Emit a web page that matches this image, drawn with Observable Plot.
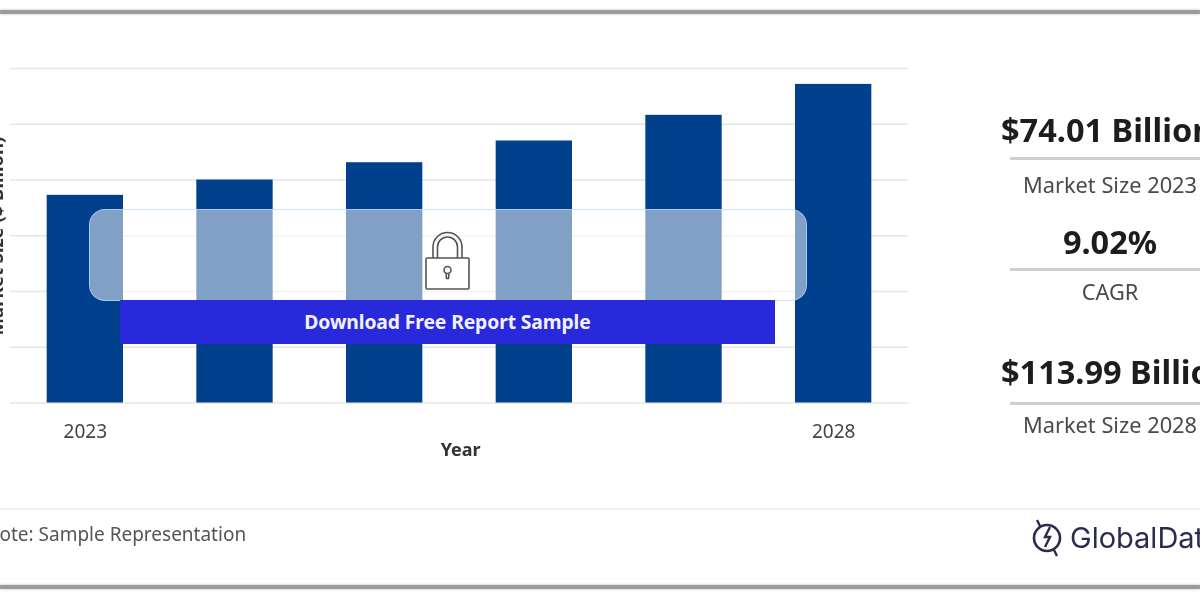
<!DOCTYPE html>
<html>
<head>
<meta charset="utf-8">
<script src="https://cdn.jsdelivr.net/npm/d3@7"></script>
<script src="https://cdn.jsdelivr.net/npm/@observablehq/plot@0.6"></script>
<style>
html,body{margin:0;padding:0;background:#fff;overflow:hidden}
#page{position:relative;width:1200px;height:600px;overflow:hidden;font-family:"Noto Sans","Open Sans",sans-serif;color:#444;filter:blur(.35px)}
#chart{position:absolute;left:0;top:0}
#chart svg{display:block}
.abs{position:absolute;white-space:nowrap}
.big{font-weight:700;font-size:32.5px;line-height:36px;color:#1d1d1f;left:1001px}
.mid{font-size:21.8px;line-height:24px;color:#4a4a4a;left:1010px;width:200px;text-align:center}
.rule{left:1010px;width:190px;height:3px;background:#cfcfcf}
.frame{left:0;width:1200px;height:4px;background:#9c9c9c;box-shadow:0 0 3px #bbb}
</style>
</head>
<body>
<div id="page">
  <div id="chart"></div>
  <div class="abs frame" style="top:10px"></div>
  <div class="abs frame" style="top:585px"></div>
  <div class="abs" style="left:-104px;top:226px;width:200px;text-align:center;transform:rotate(-90deg);font-size:18.500px;font-weight:700;line-height:20px;color:#333" id="yl"></div>

  <div class="abs" style="left:89px;top:209px;width:718px;height:92px;box-sizing:border-box;border-radius:16px;background:rgba(255,255,255,.5);border:1px solid rgba(190,215,245,.7)"></div>
  <svg class="abs" style="left:424px;top:230px" width="48" height="62" viewBox="0 0 48 62" fill="none" stroke="#555" stroke-width="1.6">
    <path d="M9 28V17a14.500 14.500 0 0 1 29 0V28"/>
    <path d="M13.500 28V17a10 10 0 0 1 20 0V28"/>
    <rect x="2" y="28" width="43" height="31" rx="1"/>
    <circle cx="23.500" cy="40" r="3.500"/>
    <path d="M22 43.500l.5 5h2l.5-5"/>
  </svg>
  <div class="abs" style="left:120px;top:300px;width:655px;height:44px;background:#2929dc;color:#f2f2ff;font-weight:700;font-size:19.300px;line-height:44px;text-align:center;letter-spacing:-.1px" id="cta"></div>

  <div class="abs big" style="top:112px" id="v0"></div>
  <div class="abs rule" style="top:157px"></div>
  <div class="abs mid" style="top:173px" id="l0"></div>
  <div class="abs big" style="top:224px;left:1010px;width:200px;text-align:center" id="v1"></div>
  <div class="abs rule" style="top:268px"></div>
  <div class="abs mid" style="top:280px" id="l1"></div>
  <div class="abs big" style="top:354px" id="v2"></div>
  <div class="abs rule" style="top:402px"></div>
  <div class="abs mid" style="top:413px" id="l2"></div>

  <div class="abs" style="left:0;top:508px;width:1200px;height:2px;background:#efefef"></div>
  <div class="abs" style="left:-15px;top:523px;font-size:19px;line-height:22px;color:#555" id="note"></div>
  <svg class="abs" style="left:1030px;top:517px" width="36" height="40" viewBox="0 0 36 40" fill="none" stroke="#2b2b4d" stroke-width="2.600">
    <circle cx="17" cy="21" r="13"/>
    <path d="M7 3l3 6M24 33l3 6M20 10l-5 10h5l-5 10" stroke-width="2.400"/>
  </svg>
  <div class="abs" style="left:1070px;top:519px;font-size:29px;line-height:38px;font-family:Inter,'Noto Sans',sans-serif;color:#2b2b4d" id="brand"></div>
</div>
<script>
const years = [2023, 2024, 2025, 2026, 2027, 2028];
const marketSize = [74.5, 80.0, 86.2, 94.0, 103.2, 114.3];
const gridValues = [0, 20, 40, 60, 80, 100, 120];
const labeledYears = [2023, 2028];
const barColor = "#00408c";
const gridColor = "#e6e6e6";
const yTitle = "Market Size ($ Billion)";
const xTitle = "Year";
const kpiValues = ["$74.01 Billion", "9.02%", "$113.99 Billion"];
const kpiLabels = ["Market Size 2023", "CAGR", "Market Size 2028"];
const cta = "Download Free Report Sample";
const note = "Note: Sample Representation";
const brand = "GlobalData";

const rows = years.map((year, i) => ({year, value: marketSize[i]}));

const plot = Plot.plot({
  width: 1200,
  height: 600,
  marginLeft: 10,
  marginRight: 292,
  marginTop: 68,
  marginBottom: 197.5,
  style: {background: "transparent", fontFamily: "'Noto Sans','Open Sans',sans-serif"},
  x: {type: "band", domain: years, paddingInner: 0.49, paddingOuter: 0.245, align: 0.5, round: false},
  y: {domain: [0, 120]},
  marks: [
    Plot.ruleY(gridValues, {stroke: gridColor, strokeWidth: 1.5}),
    Plot.barY(rows, {x: "year", y: "value", fill: barColor}),
    Plot.axisX({
      ticks: labeledYears,
      tickSize: 0,
      tickPadding: 21,
      tickFormat: d => String(d),
      fontSize: 19,
      color: "#444",
      label: null
    }),
    Plot.text([xTitle], {
      x: () => 2025,
      y: 0,
      dx: 76,
      dy: 47.5,
      text: d => d,
      fontSize: 18,
      fontWeight: 700,
      fill: "#333"
    }),
    Plot.axisY({ticks: [], label: null, tickSize: 0})
  ]
});
document.getElementById("chart").append(plot);

document.getElementById("yl").textContent = yTitle;
document.getElementById("cta").textContent = cta;
kpiValues.forEach((v, i) => document.getElementById("v" + i).textContent = v);
kpiLabels.forEach((v, i) => document.getElementById("l" + i).textContent = v);
document.getElementById("note").textContent = note;
document.getElementById("brand").textContent = brand;
</script>
</body>
</html>
